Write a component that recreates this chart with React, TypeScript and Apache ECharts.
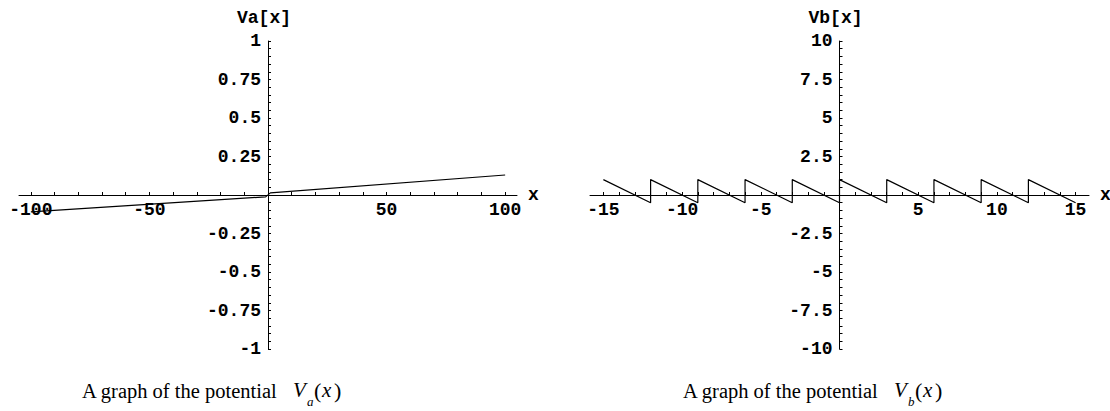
import React, { useEffect, useRef } from "react";
import * as echarts from "echarts";

// ---- data ----
const vaX = [-100, -1, 1, 100];
const vaY = [-0.11, -0.012, 0.014, 0.13];

const vbX = [-15, -12, -12, -9, -9, -6, -6, -3, -3, 0, 0, 3, 3, 6, 6, 9, 9, 12, 12, 15];
const vbY = [1, -0.5, 1, -0.5, 1, -0.5, 1, -0.5, 1, -0.5, 1, -0.5, 1, -0.5, 1, -0.5, 1, -0.5, 1, -0.5];

const vaXLabels = [-100, -50, 50, 100];
const vaYLabels = [-1, -0.75, -0.5, -0.25, 0.25, 0.5, 0.75, 1];
const vbXLabels = [-15, -10, -5, 5, 10, 15];
const vbYLabels = [-10, -7.5, -5, -2.5, 2.5, 5, 7.5, 10];

const vaXTickStep = 10;
const vaYTickStep = 0.05;
const vbXTickStep = 1;
const vbYTickStep = 0.5;

function ticks(lo: number, hi: number, step: number): number[] {
  const out: number[] = [];
  const n = Math.round((hi - lo) / step);
  for (let i = 0; i <= n; i++) {
    const v = +(lo + i * step).toFixed(4);
    if (v !== 0) out.push(v);
  }
  return out;
}

const mono = "'Liberation Mono', 'DejaVu Sans Mono', monospace";
const serif = "'Liberation Serif', 'DejaVu Serif', serif";

// grids: same height, zero line in the vertical middle
const GRID_TOP = 41;
const GRID_H = 308;

function xAxis(gridIndex: number, min: number, max: number, labels: number[], tickVals: number[]) {
  return {
    type: "value",
    gridIndex,
    min,
    max,
    position: "bottom",
    offset: -GRID_H / 2,
    name: "x",
    nameLocation: "end",
    nameGap: 11,
    nameTextStyle: { fontFamily: mono, fontSize: 18, fontWeight: "bold", color: "#000" },
    axisLine: { show: true, onZero: false, lineStyle: { color: "#000", width: 1 } },
    axisTick: { show: true, inside: true, length: 3, customValues: tickVals, lineStyle: { color: "#000", width: 1 } },
    axisLabel: { show: true, customValues: labels, margin: 6, fontFamily: mono, fontSize: 18, fontWeight: "bold", color: "#000" },
    splitLine: { show: false },
  };
}

function yAxis(gridIndex: number, min: number, max: number, name: string, labels: number[], tickVals: number[], zeroOffset: number) {
  return {
    type: "value",
    gridIndex,
    min,
    max,
    position: "left",
    offset: -zeroOffset,
    name,
    nameLocation: "end",
    nameGap: 14,
    nameTextStyle: { fontFamily: mono, fontSize: 18, fontWeight: "bold", color: "#000", padding: [0, 8, 0, 0] },
    axisLine: { show: true, onZero: false, lineStyle: { color: "#000", width: 1 } },
    axisTick: { show: true, inside: true, length: 3, customValues: tickVals, lineStyle: { color: "#000", width: 1 } },
    axisLabel: { show: true, customValues: labels, margin: 7, fontFamily: mono, fontSize: 18, fontWeight: "bold", color: "#000" },
    splitLine: { show: false },
  };
}

function caption(x0: number, sub: string) {
  const y = 391;
  return [
    { type: "text", x: x0, y, style: { text: "A graph of the potential", font: `20.5px ${serif}`, fill: "#000", verticalAlign: "middle", textVerticalAlign: "middle" } },
    { type: "text", x: x0 + 211, y: y - 1, style: { text: "V", font: `italic 21px ${serif}`, fill: "#000", verticalAlign: "middle", textVerticalAlign: "middle" } },
    { type: "text", x: x0 + 225, y: y + 10, style: { text: sub, font: `italic 13px ${serif}`, fill: "#000", verticalAlign: "middle", textVerticalAlign: "middle" } },
    { type: "text", x: x0 + 232, y: y - 1, style: { text: "(", font: `22px ${serif}`, fill: "#000", verticalAlign: "middle", textVerticalAlign: "middle" } },
    { type: "text", x: x0 + 240, y: y - 1, style: { text: "x", font: `italic 21px ${serif}`, fill: "#000", verticalAlign: "middle", textVerticalAlign: "middle" } },
    { type: "text", x: x0 + 252, y: y - 1, style: { text: ")", font: `22px ${serif}`, fill: "#000", verticalAlign: "middle", textVerticalAlign: "middle" } },
  ];
}

export default function App() {
  const ref = useRef<HTMLDivElement>(null);
  useEffect(() => {
    if (!ref.current) return;
    const chart = echarts.init(ref.current, undefined, { renderer: "svg" });
    const leftW = 498;
    const rightW = 499;
    chart.setOption({
      animation: false,
      backgroundColor: "#fff",
      grid: [
        { left: 19, top: GRID_TOP, width: leftW, height: GRID_H, outerBoundsMode: "none", containLabel: false },
        { left: 590, top: GRID_TOP, width: rightW, height: GRID_H, outerBoundsMode: "none", containLabel: false },
      ],
      xAxis: [
        xAxis(0, -105, 105, vaXLabels, ticks(-100, 100, vaXTickStep)),
        xAxis(1, -15.85, 15.85, vbXLabels, ticks(-15, 15, vbXTickStep)),
      ],
      yAxis: [
        yAxis(0, -1, 1, "Va[x]", vaYLabels, ticks(-1, 1, vaYTickStep), leftW / 2),
        yAxis(1, -10, 10, "Vb[x]", vbYLabels, ticks(-10, 10, vbYTickStep), rightW / 2),
      ],
      series: [
        {
          type: "line",
          xAxisIndex: 0,
          yAxisIndex: 0,
          data: vaX.map((x, i) => [x, vaY[i]]),
          showSymbol: false,
          lineStyle: { color: "#000", width: 1.2 },
        },
        {
          type: "line",
          xAxisIndex: 1,
          yAxisIndex: 1,
          data: vbX.map((x, i) => [x, vbY[i]]),
          showSymbol: false,
          lineStyle: { color: "#000", width: 1.2 },
        },
      ],
      graphic: [...caption(82, "a"), ...caption(683, "b")],
    });
    return () => chart.dispose();
  }, []);
  return <div ref={ref} style={{ position: "fixed", left: 0, top: 0, width: 1110, height: 411 }} />;
}
